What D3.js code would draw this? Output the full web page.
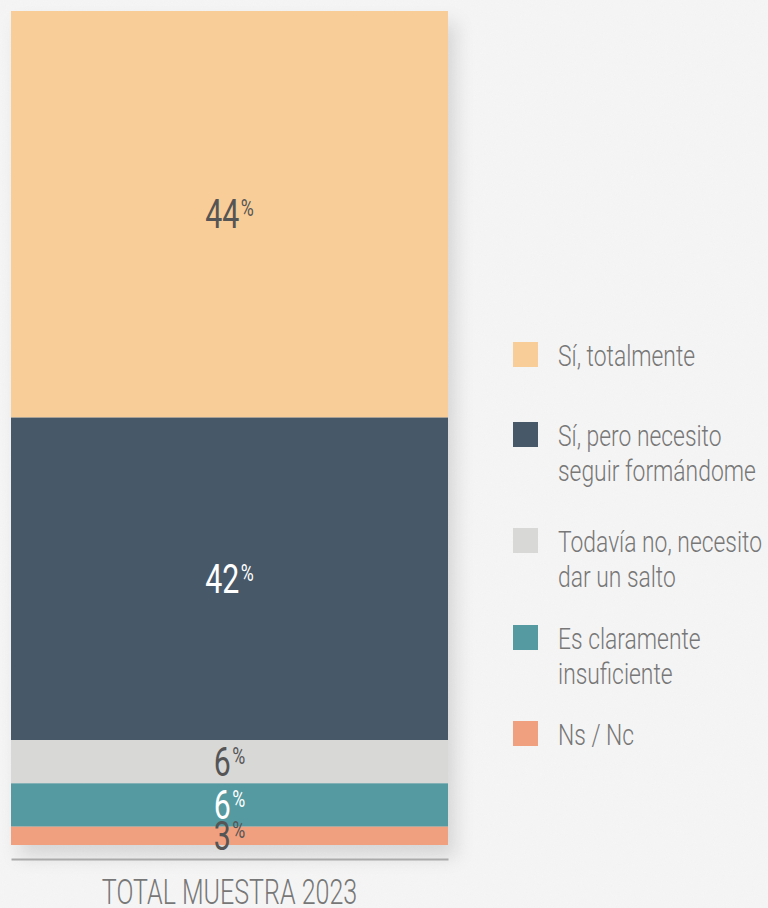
<!DOCTYPE html>
<html>
<head>
<meta charset="utf-8">
<script src="https://cdn.jsdelivr.net/npm/d3@7"></script>
<style>
  html, body { margin: 0; padding: 0; background: #f3f3f3; }
  svg { display: block; }
  text { font-family: Roboto, "Noto Sans", sans-serif; }
</style>
</head>
<body>
<svg id="chart"></svg>
<script>
// categories, top to bottom of the stacked bar
let categories = [
  "Sí, totalmente",
  "Sí, pero necesito seguir formándome",
  "Todavía no, necesito dar un salto",
  "Es claramente insuficiente",
  "Ns / Nc",
];
// legend text split in lines
let legendLines = [
  ["Sí, totalmente"],
  ["Sí, pero necesito", "seguir formándome"],
  ["Todavía no, necesito", "dar un salto"],
  ["Es claramente", "insuficiente"],
  ["Ns / Nc"],
];
// segment sizes as drawn in the picture (share of the bar height)
let shares = [48.8, 38.7, 5.2, 5.2, 2.2];
// printed labels
let labels = [44, 42, 6, 6, 3];
let colors = ["#f9cd97", "#475869", "#d8d8d7", "#559aa0", "#f0a07f"];
let labelColors = ["#555555", "#ffffff", "#555555", "#ffffff", "#555555"];
let xLabel = "TOTAL MUESTRA 2023";

let width = 768,
  height = 908;
let bar = { left: 11, right: 448, top: 11, bottom: 845 };
let legendX = 513,
  legendTop = [342, 422, 528, 625, 721],
  lineH = 35;
// fake a condensed face (the original uses a narrow font)
let sxLabel = 0.74,
  sxLegend = 0.775,
  sxTitle = 0.715;

let svg = d3.select("#chart").attr("width", width).attr("height", height);

let defs = svg.append("defs");
let noise = defs.append("filter").attr("id", "noise").attr("x", 0).attr("y", 0).attr("width", "100%").attr("height", "100%");
noise.append("feTurbulence").attr("type", "fractalNoise").attr("baseFrequency", 0.9).attr("numOctaves", 2).attr("result", "t");
noise.append("feColorMatrix").attr("type", "matrix")
  .attr("values", "0 0 0 0 1  0 0 0 0 1  0 0 0 0 1  0 0 0 0.35 0");

let shadow = defs.append("filter").attr("id", "shadow").attr("x", "-10%").attr("y", "-10%").attr("width", "130%").attr("height", "130%");
shadow.append("feDropShadow").attr("dx", 8).attr("dy", 12).attr("stdDeviation", 9)
  .attr("flood-color", "#000").attr("flood-opacity", 0.12);

// background
svg.append("rect").attr("width", width).attr("height", height).attr("fill", "#f3f3f3");
svg.append("rect").attr("width", width).attr("height", height).attr("filter", "url(#noise)").attr("opacity", 0.5);

// stacked bar
let data = categories.map((c, i) => ({ cat: c, share: shares[i], label: labels[i], i: i }));
let acc = 0;
data.forEach((d) => { d.y0 = acc; acc += d.share; d.y1 = acc; });

let y = d3.scaleLinear().domain([0, acc]).range([bar.top, bar.bottom]);
let x = d3.scaleBand().domain([xLabel]).range([bar.left, bar.right]).padding(0);

let g = svg.append("g").attr("filter", "url(#shadow)");
g.selectAll("rect.seg")
  .data(data)
  .enter()
  .append("rect")
  .attr("class", "seg")
  .attr("x", x(xLabel))
  .attr("width", x.bandwidth())
  .attr("y", (d) => y(d.y0))
  .attr("height", (d) => y(d.y1) - y(d.y0))
  .attr("fill", (d) => colors[d.i]);

// x axis
let axis = svg.append("g").attr("transform", "translate(0," + 859 + ")")
  .call(d3.axisBottom(x).tickSize(0).tickPadding(20));
axis.select(".domain").attr("stroke", "#aaaaaa").attr("stroke-width", 2);
axis.selectAll(".tick text")
  .attr("font-family", "Roboto, sans-serif")
  .attr("font-weight", 300)
  .attr("font-size", "35px")
  .attr("fill", "#777777")
  .attr("transform", "scale(" + sxTitle + ",1)");

// value labels
let lab = svg.selectAll("text.val")
  .data(data)
  .enter()
  .append("text")
  .attr("class", "val")
  .attr("transform", (d) =>
    "translate(" + (x(xLabel) + x.bandwidth() / 2) + "," + ((y(d.y0) + y(d.y1)) / 2 + 14) + ") scale(" + sxLabel + ",1)")
  .attr("text-anchor", "middle")
  .attr("font-size", "41px")
  .attr("fill", (d) => labelColors[d.i]);
lab.append("tspan").text((d) => d.label);
lab.append("tspan").attr("font-size", "24px").attr("dy", -12).attr("dx", 2).text("%");

// legend
let leg = svg.selectAll("g.leg")
  .data(data)
  .enter()
  .append("g")
  .attr("class", "leg")
  .attr("transform", (d) => "translate(" + legendX + "," + legendTop[d.i] + ")");
leg.append("rect").attr("width", 25).attr("height", 25).attr("fill", (d) => colors[d.i]);
leg.each(function (d) {
  let t = d3.select(this).append("text")
    .attr("transform", "translate(45,24) scale(" + sxLegend + ",1)")
    .attr("font-size", "29.5px")
    .attr("font-weight", 300)
    .attr("fill", "#777777");
  legendLines[d.i].forEach((line, k) => {
    t.append("tspan").attr("x", 0).attr("dy", k === 0 ? 0 : lineH).text(line);
  });
});
</script>
</body>
</html>
